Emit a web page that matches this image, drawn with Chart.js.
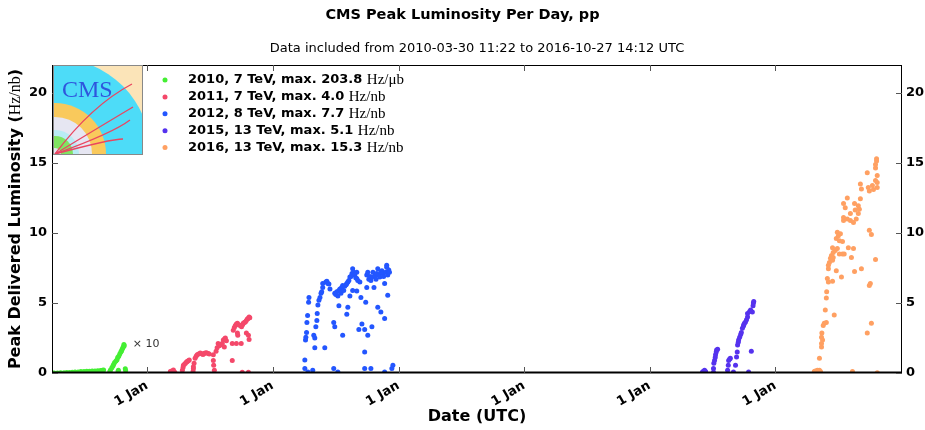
<!DOCTYPE html>
<html>
<head>
<meta charset="utf-8">
<title>CMS Peak Luminosity Per Day, pp</title>
<script src="https://cdn.jsdelivr.net/npm/chart.js@4.4.0/dist/chart.umd.min.js"></script>
<style>
  html, body { margin: 0; padding: 0; background: #fff; }
  canvas { display: block; }
</style>
</head>
<body>
<canvas id="lumiChart" width="925" height="430"></canvas>
<script>
// Peak delivered luminosity per day (Hz/nb).
// 2010 values are shown x10 (as on the original plot).
const lumi2010 = [
    ['2010-03-31', 0.00], ['2010-04-05', 0.00], ['2010-04-15', 0.00], ['2010-04-24', 0.01], ['2010-05-04', 0.02],
    ['2010-05-12', 0.03], ['2010-05-20', 0.04], ['2010-05-28', 0.06], ['2010-06-05', 0.07], ['2010-06-14', 0.08],
    ['2010-06-22', 0.10], ['2010-07-01', 0.10], ['2010-07-09', 0.12], ['2010-07-17', 0.13], ['2010-07-25', 0.14],
    ['2010-08-02', 0.14], ['2010-08-10', 0.16], ['2010-08-18', 0.18], ['2010-08-24', 0.20], ['2010-08-27', 0.22],
    ['2010-09-14', 0.10], ['2010-09-16', 0.22], ['2010-09-20', 0.38], ['2010-09-23', 0.50], ['2010-09-25', 0.60],
    ['2010-09-28', 0.75], ['2010-10-02', 0.85], ['2010-10-05', 0.95], ['2010-10-07', 1.10], ['2010-10-10', 1.20],
    ['2010-10-13', 1.35], ['2010-10-16', 1.50], ['2010-10-18', 1.58], ['2010-10-20', 1.70], ['2010-10-22', 1.80],
    ['2010-10-24', 1.90], ['2010-10-25', 2.04], ['2010-10-26', 1.95], ['2010-10-09', 0.20], ['2010-10-08', 0.10],
    ['2010-10-29', 0.30], ['2010-10-30', 0.18]
];
const lumi2011 = [
    ['2011-03-09', 0.10], ['2011-03-13', 0.15], ['2011-03-18', 0.22], ['2011-03-22', 0.05],
    ['2011-04-13', 0.20], ['2011-04-15', 0.40], ['2011-04-16', 0.55], ['2011-04-19', 0.62], ['2011-04-22', 0.70],
    ['2011-04-25', 0.78], ['2011-04-27', 0.82], ['2011-04-30', 0.88], ['2011-05-03', 0.92],
    ['2011-05-14', 0.10], ['2011-05-15', 0.30], ['2011-05-15', 0.45], ['2011-05-17', 0.70], ['2011-05-20', 1.05],
    ['2011-05-23', 1.20], ['2011-05-26', 1.30], ['2011-05-30', 1.35], ['2011-06-04', 1.42], ['2011-06-08', 1.38],
    ['2011-06-12', 1.32], ['2011-06-15', 1.40], ['2011-06-18', 1.42], ['2011-06-22', 1.45], ['2011-06-27', 1.40],
    ['2011-06-30', 1.35], ['2011-07-12', 1.30], ['2011-07-12', 0.90], ['2011-07-13', 0.55], ['2011-07-15', 0.20],
    ['2011-07-20', 1.55], ['2011-07-23', 1.80], ['2011-07-26', 2.10], ['2011-07-29', 1.95], ['2011-08-01', 2.00],
    ['2011-08-04', 2.05], ['2011-08-07', 2.10], ['2011-08-10', 2.35], ['2011-08-13', 1.85], ['2011-08-14', 2.45],
    ['2011-08-16', 2.50], ['2011-08-19', 2.30], ['2011-09-05', 0.90], ['2011-09-05', 2.10], ['2011-09-08', 3.05],
    ['2011-09-11', 3.25], ['2011-09-14', 3.40], ['2011-09-17', 2.10], ['2011-09-17', 3.50], ['2011-09-20', 3.55],
    ['2011-09-20', 2.85], ['2011-09-21', 2.70], ['2011-09-24', 3.45], ['2011-09-28', 3.40], ['2011-10-01', 2.10],
    ['2011-10-02', 3.30], ['2011-10-04', 0.05], ['2011-10-05', 3.45], ['2011-10-07', 3.55], ['2011-10-10', 3.60],
    ['2011-10-13', 3.65], ['2011-10-16', 2.85], ['2011-10-16', 3.75], ['2011-10-19', 3.85], ['2011-10-21', 3.90],
    ['2011-10-22', 2.70], ['2011-10-22', 0.05], ['2011-10-24', 4.00], ['2011-10-24', 2.40], ['2011-10-26', 3.95]
];
const lumi2012 = [
    ['2012-04-03', 0.33], ['2012-04-03', 0.92], ['2012-04-05', 2.35], ['2012-04-06', 2.55], ['2012-04-08', 2.90],
    ['2012-04-09', 3.60], ['2012-04-11', 4.10], ['2012-04-14', 5.05], ['2012-04-15', 5.40], ['2012-04-12', 0.07],
    ['2012-04-26', 0.20], ['2012-04-29', 2.70], ['2012-05-02', 2.50], ['2012-05-02', 1.80], ['2012-05-05', 3.30],
    ['2012-05-08', 3.75], ['2012-05-09', 4.25], ['2012-05-11', 4.85], ['2012-05-14', 5.20], ['2012-05-17', 5.40],
    ['2012-05-20', 5.70], ['2012-05-22', 5.80], ['2012-05-25', 6.10], ['2012-05-25', 6.40], ['2012-05-31', 1.80],
    ['2012-06-03', 6.50], ['2012-06-06', 6.55], ['2012-06-09', 6.40], ['2012-06-12', 6.35], ['2012-06-15', 6.00],
    ['2012-06-26', 3.60], ['2012-06-29', 3.30], ['2012-06-26', 0.33], ['2012-07-08', 0.07], ['2012-06-29', 5.70],
    ['2012-07-02', 5.60], ['2012-07-05', 5.80], ['2012-07-08', 5.50], ['2012-07-11', 4.80], ['2012-07-11', 5.90],
    ['2012-07-14', 6.00], ['2012-07-17', 5.70], ['2012-07-19', 6.10], ['2012-07-22', 6.25], ['2012-07-22', 2.70],
    ['2012-07-25', 5.90], ['2012-07-28', 6.20], ['2012-08-01', 6.30], ['2012-08-03', 6.40], ['2012-08-03', 4.20],
    ['2012-08-06', 6.50], ['2012-08-06', 4.70], ['2012-08-09', 6.60], ['2012-08-12', 6.85], ['2012-08-12', 5.50],
    ['2012-08-15', 6.90], ['2012-08-18', 7.10], ['2012-08-20', 7.45], ['2012-08-20', 5.90], ['2012-08-23', 7.20],
    ['2012-08-26', 7.00], ['2012-08-29', 6.80], ['2012-09-01', 6.75], ['2012-09-01', 7.20], ['2012-09-01', 5.85],
    ['2012-09-04', 6.60], ['2012-09-07', 3.10], ['2012-09-10', 6.50], ['2012-09-13', 5.40], ['2012-09-16', 3.50],
    ['2012-09-24', 3.10], ['2012-09-24', 1.50], ['2012-09-24', 0.33], ['2012-09-27', 5.05], ['2012-09-30', 6.10],
    ['2012-09-30', 7.00], ['2012-10-03', 7.20], ['2012-10-03', 2.70], ['2012-10-06', 6.70], ['2012-10-09', 6.90],
    ['2012-10-12', 0.33], ['2012-10-12', 6.60], ['2012-10-15', 6.85], ['2012-10-15', 3.30], ['2012-10-18', 7.20],
    ['2012-10-21', 6.10], ['2012-10-24', 6.95], ['2012-10-27', 6.70], ['2012-10-29', 7.10], ['2012-11-01', 7.45],
    ['2012-11-01', 4.70], ['2012-11-04', 7.00], ['2012-11-07', 6.85], ['2012-11-10', 4.35], ['2012-11-10', 7.25],
    ['2012-11-13', 7.30], ['2012-11-16', 7.10], ['2012-11-18', 6.90], ['2012-11-21', 6.40], ['2012-11-21', 3.90],
    ['2012-11-21', 0.07], ['2012-11-24', 7.20], ['2012-11-27', 7.55], ['2012-11-27', 7.70], ['2012-11-30', 7.00],
    ['2012-11-30', 5.55], ['2012-12-03', 7.35], ['2012-12-05', 7.20], ['2012-12-12', 0.33], ['2012-12-15', 0.55]
];
const lumi2015 = [
    ['2015-06-03', 0.07], ['2015-06-06', 0.12], ['2015-06-09', 0.20], ['2015-06-12', 0.10],
    ['2015-07-05', 0.33], ['2015-07-06', 0.70], ['2015-07-08', 0.90], ['2015-07-10', 1.10], ['2015-07-11', 1.30],
    ['2015-07-13', 1.50], ['2015-07-14', 1.65], ['2015-07-17', 1.70], ['2015-07-05', 0.05],
    ['2015-08-15', 0.20], ['2015-08-17', 0.55], ['2015-08-18', 0.90], ['2015-08-21', 1.00], ['2015-08-23', 1.05],
    ['2015-09-01', 0.07], ['2015-09-07', 0.55], ['2015-09-10', 1.15], ['2015-09-12', 1.50], ['2015-09-13', 2.00],
    ['2015-09-15', 2.20], ['2015-09-16', 2.35], ['2015-09-19', 2.55], ['2015-09-22', 2.75], ['2015-09-24', 2.90],
    ['2015-09-27', 3.20], ['2015-09-30', 3.35], ['2015-10-01', 3.45], ['2015-10-03', 3.55], ['2015-10-06', 3.65],
    ['2015-10-09', 3.80], ['2015-10-12', 4.00], ['2015-10-12', 4.25], ['2015-10-15', 0.07], ['2015-10-18', 4.40],
    ['2015-10-21', 4.50], ['2015-10-23', 1.55], ['2015-10-26', 4.35], ['2015-10-28', 4.80], ['2015-10-29', 5.00],
    ['2015-10-30', 5.10]
];
const lumi2016 = [
    ['2016-04-23', 0.10], ['2016-04-26', 0.15], ['2016-04-29', 0.12], ['2016-05-02', 0.20], ['2016-05-05', 0.15],
    ['2016-05-08', 0.20], ['2016-05-08', 1.05], ['2016-05-11', 0.10], ['2016-05-14', 1.85], ['2016-05-14', 2.10],
    ['2016-05-14', 2.55], ['2016-05-15', 2.85], ['2016-05-17', 2.35], ['2016-05-19', 3.40], ['2016-05-22', 3.55],
    ['2016-05-25', 4.50], ['2016-05-28', 3.60], ['2016-05-28', 5.35], ['2016-05-29', 5.80], ['2016-05-31', 6.75],
    ['2016-06-03', 6.50], ['2016-06-03', 7.45], ['2016-06-03', 7.70], ['2016-06-06', 7.90], ['2016-06-09', 8.20],
    ['2016-06-12', 8.40], ['2016-06-15', 8.05], ['2016-06-15', 6.55], ['2016-06-15', 8.95], ['2016-06-17', 8.25],
    ['2016-06-17', 8.60], ['2016-06-20', 4.15], ['2016-06-23', 8.75], ['2016-06-26', 7.30], ['2016-06-26', 9.60],
    ['2016-06-29', 10.05], ['2016-06-29', 8.90], ['2016-07-02', 9.80], ['2016-07-05', 8.50], ['2016-07-05', 9.45],
    ['2016-07-08', 9.95], ['2016-07-11', 6.85], ['2016-07-14', 8.50], ['2016-07-14', 9.40], ['2016-07-17', 10.90],
    ['2016-07-17', 11.10], ['2016-07-17', 12.10], ['2016-07-19', 8.50], ['2016-07-22', 11.80], ['2016-07-28', 11.00],
    ['2016-07-28', 12.50], ['2016-07-31', 8.95], ['2016-08-06', 10.90], ['2016-08-06', 11.40], ['2016-08-09', 8.25],
    ['2016-08-12', 0.10], ['2016-08-15', 8.90], ['2016-08-15', 10.75], ['2016-08-18', 7.25], ['2016-08-18', 12.10],
    ['2016-08-20', 11.65], ['2016-08-23', 11.00], ['2016-08-29', 11.95], ['2016-08-29', 11.40], ['2016-09-01', 11.70],
    ['2016-09-04', 12.45], ['2016-09-04', 13.50], ['2016-09-07', 13.15], ['2016-09-07', 7.45], ['2016-09-24', 14.30],
    ['2016-09-24', 2.85], ['2016-09-27', 13.25], ['2016-09-30', 13.00], ['2016-09-30', 10.20], ['2016-09-30', 6.25],
    ['2016-10-03', 6.40], ['2016-10-06', 9.90], ['2016-10-06', 3.55], ['2016-10-09', 13.40], ['2016-10-12', 13.10],
    ['2016-10-18', 13.75], ['2016-10-18', 14.65], ['2016-10-18', 14.90], ['2016-10-18', 8.10], ['2016-10-21', 15.15],
    ['2016-10-21', 15.30], ['2016-10-23', 14.10], ['2016-10-23', 13.60], ['2016-10-23', 13.25], ['2016-10-23', 0.02]
];

const seriesLabels = ['2010, 7 TeV, max. 203.8', '2011, 7 TeV, max. 4.0', '2012, 8 TeV, max. 7.7',
                      '2015, 13 TeV, max. 5.1', '2016, 13 TeV, max. 15.3'];
const seriesUnits = ['Hz/\u03bcb', 'Hz/nb', 'Hz/nb', 'Hz/nb', 'Hz/nb'];
const seriesColors = ['#44ee33', '#f4486a', '#2356ff', '#5532ee', '#ffa062'];
const xTickYears = [2011, 2012, 2013, 2014, 2015, 2016];
const xTickLabel = '1 Jan';
const yTicks = [0, 5, 10, 15, 20];
const xRange = ['2010-03-30', '2017-01-03'];
const yRange = [0, 22];

const SANS = '"DejaVu Sans", sans-serif';
const SERIF = '"Liberation Serif", "DejaVu Serif", serif';

function toTime(d) {
    return Date.parse(d + 'T12:00:00Z');
}

function toPoints(rows) {
    return rows.map(([d, v]) => ({ x: toTime(d), y: v }));
}

// draw a run of text pieces with different fonts, starting at x
function drawRun(ctx, parts, x, y) {
    parts.forEach(p => {
        ctx.font = p.font;
        ctx.fillText(p.text, x, y);
        x += ctx.measureText(p.text).width;
    });
}

function runWidth(ctx, parts) {
    return parts.reduce((w, p) => { ctx.font = p.font; return w + ctx.measureText(p.text).width; }, 0);
}

function drawLogo(ctx, x, y, s) {
    ctx.save();
    ctx.beginPath();
    ctx.rect(x, y, s, s);
    ctx.clip();
    ctx.fillStyle = '#fbe4b8';
    ctx.fillRect(x, y, s, s);
    const cx = x + 2, cy = y + s - 1;
    const disc = (r, color) => {
        ctx.beginPath();
        ctx.arc(cx, cy, r, 0, 2 * Math.PI);
        ctx.fillStyle = color;
        ctx.fill();
    };
    disc(96, '#4ddcf8');
    disc(51, '#f9c95c');
    disc(37, '#e6e6f2');
    disc(24, '#b9ecf4');
    disc(18, '#80e462');
    disc(6, '#e6e6f2');

    // curved tracks: control point and end point, relative to the box
    ctx.strokeStyle = '#ea4560';
    ctx.lineWidth = 1.3;
    const tracks = [[39, 40, 79, 19], [53, 58, 80, 42], [60, 68, 77, 55], [58, 74, 70, 74]];
    tracks.forEach(([qx, qy, ex, ey]) => {
        ctx.beginPath();
        ctx.moveTo(cx, cy);
        ctx.quadraticCurveTo(x + qx, y + qy, x + ex, y + ey);
        ctx.stroke();
    });

    ctx.fillStyle = '#2f55dd';
    ctx.font = '24px ' + SERIF;
    ctx.textBaseline = 'alphabetic';
    ctx.textAlign = 'left';
    ctx.fillText('CMS', x + 9, y + 32);
    ctx.restore();

    ctx.strokeStyle = '#888';
    ctx.lineWidth = 1;
    ctx.strokeRect(x + 0.5, y + 0.5, s - 1, s - 1);
}

const decorations = {
    id: 'decorations',
    afterDraw(chart) {
        const { ctx, chartArea: a, scales } = chart;
        const xs = scales.x, ys = scales.y;
        ctx.save();

        // titles
        ctx.fillStyle = '#000';
        ctx.textAlign = 'center';
        ctx.textBaseline = 'middle';
        ctx.font = 'bold 14.5px ' + SANS;
        ctx.fillText('CMS Peak Luminosity Per Day, pp', chart.width / 2, 15);
        ctx.font = '13px ' + SANS;
        ctx.fillText('Data included from 2010-03-30 11:22 to 2016-10-27 14:12 UTC', (a.left + a.right) / 2, 49);

        // y axis title with math units
        const yTitle = [
            { text: 'Peak Delivered Luminosity (', font: 'bold 16px ' + SANS },
            { text: 'Hz/nb', font: '16px ' + SERIF },
            { text: ')', font: 'bold 16px ' + SANS }
        ];
        ctx.save();
        ctx.translate(16, (a.top + a.bottom) / 2);
        ctx.rotate(-Math.PI / 2);
        ctx.textAlign = 'left';
        drawRun(ctx, yTitle, -runWidth(ctx, yTitle) / 2, 0);
        ctx.restore();

        // frame and inward ticks
        ctx.strokeStyle = '#000';
        ctx.lineWidth = 1;
        ctx.strokeRect(a.left + 0.5, a.top + 0.5, a.right - a.left - 1, a.bottom - a.top - 1);
        ctx.beginPath();
        ctx.moveTo(a.left, a.bottom - 0.5);
        ctx.lineTo(a.right, a.bottom - 0.5);
        ctx.lineWidth = 2;
        ctx.stroke();
        ctx.lineWidth = 1;
        ctx.strokeStyle = '#555';
        ctx.beginPath();
        xTickYears.forEach(yr => {
            const px = Math.round(xs.getPixelForValue(Date.UTC(yr, 0, 1))) + 0.5;
            ctx.moveTo(px, a.bottom); ctx.lineTo(px, a.bottom - 6);
            ctx.moveTo(px, a.top); ctx.lineTo(px, a.top + 6);
        });
        yTicks.forEach(v => {
            const py = Math.round(ys.getPixelForValue(v)) + 0.5;
            ctx.moveTo(a.left, py); ctx.lineTo(a.left + 6, py);
            ctx.moveTo(a.right, py); ctx.lineTo(a.right - 6, py);
        });
        ctx.stroke();

        // x10 marker for the 2010 series
        ctx.fillStyle = '#333';
        ctx.font = '11px ' + SANS;
        ctx.textAlign = 'left';
        ctx.fillText('\u00d7 10', xs.getPixelForValue(toTime('2010-11-20')), ys.getPixelForValue(2.05));

        // logo
        drawLogo(ctx, a.left + 1, a.top, 90);

        // legend
        seriesLabels.forEach((label, i) => {
            const ly = a.top + 15 + i * 16.9;
            ctx.beginPath();
            ctx.arc(a.left + 113, ly, 2.5, 0, 2 * Math.PI);
            ctx.fillStyle = seriesColors[i];
            ctx.fill();
            ctx.fillStyle = '#000';
            ctx.textBaseline = 'middle';
            drawRun(ctx, [
                { text: label + ' ', font: 'bold 13px ' + SANS },
                { text: seriesUnits[i], font: '15px ' + SERIF }
            ], a.left + 136, ly);
        });
        ctx.restore();
    }
};

const allSeries = [lumi2010, lumi2011, lumi2012, lumi2015, lumi2016];

const ctx = document.getElementById('lumiChart').getContext('2d');
new Chart(ctx, {
    type: 'scatter',
    data: {
        datasets: allSeries.map((rows, i) => ({
            label: seriesLabels[i],
            data: toPoints(rows),
            backgroundColor: seriesColors[i],
            borderWidth: 0,
            pointRadius: 2.5,
            clip: 0
        }))
    },
    options: {
        responsive: false,
        animation: false,
        layout: { padding: { top: 65, left: 0, right: 0, bottom: 0 } },
        plugins: {
            legend: { display: false },
            tooltip: { enabled: false },
            title: { display: false }
        },
        scales: {
            x: {
                type: 'linear',
                position: 'bottom',
                min: toTime(xRange[0]),
                max: toTime(xRange[1]),
                afterBuildTicks: s => { s.ticks = xTickYears.map(yr => ({ value: Date.UTC(yr, 0, 1) })); },
                afterFit: s => { s.height = 57; },
                grid: { display: false, drawTicks: false },
                border: { display: false },
                ticks: {
                    callback: () => xTickLabel,
                    minRotation: 30,
                    maxRotation: 30,
                    padding: 5,
                    color: '#000',
                    font: { family: SANS, size: 13, weight: 'bold' }
                },
                title: {
                    display: true,
                    text: 'Date (UTC)',
                    color: '#000',
                    padding: { top: 4, bottom: 4 },
                    font: { family: SANS, size: 16, weight: 'bold' }
                }
            },
            y: {
                position: 'left',
                min: yRange[0],
                max: yRange[1],
                afterBuildTicks: s => { s.ticks = yTicks.map(v => ({ value: v })); },
                afterFit: s => { s.width = 52; },
                grid: { display: false, drawTicks: false },
                border: { display: false },
                ticks: { padding: 5, color: '#000', font: { family: SANS, size: 13, weight: 'bold' } }
            },
            y2: {
                position: 'right',
                min: yRange[0],
                max: yRange[1],
                afterBuildTicks: s => { s.ticks = yTicks.map(v => ({ value: v })); },
                afterFit: s => { s.width = 23; },
                grid: { display: false, drawTicks: false },
                border: { display: false },
                ticks: { padding: 4, color: '#000', font: { family: SANS, size: 13, weight: 'bold' } }
            }
        }
    },
    plugins: [decorations]
});
</script>
</body>
</html>
